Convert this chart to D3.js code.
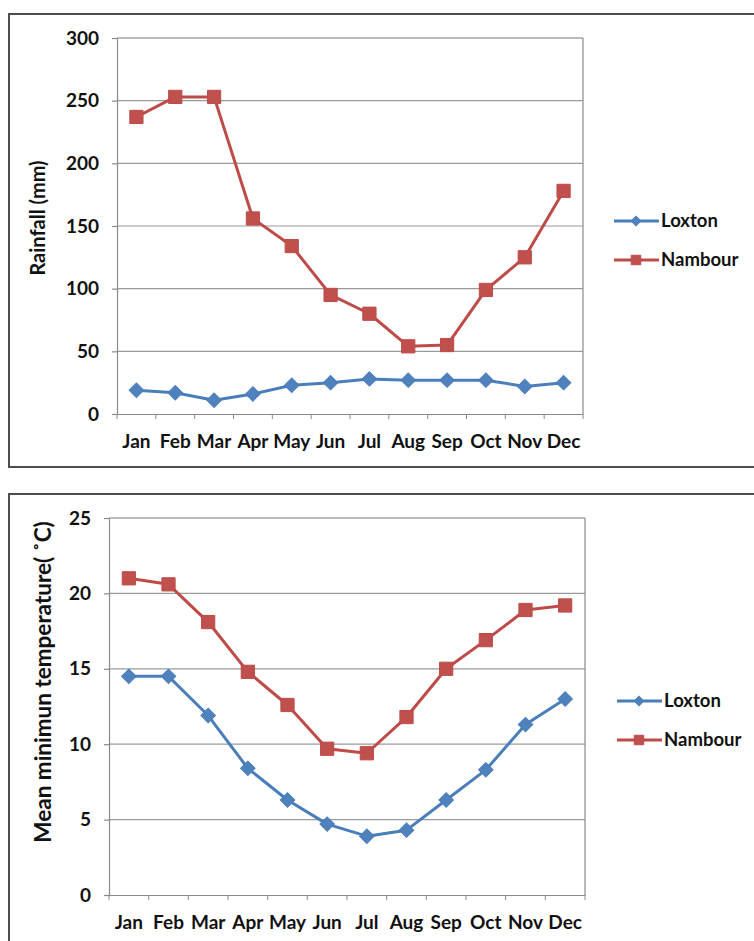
<!DOCTYPE html>
<html>
<head>
<meta charset="utf-8">
<script src="https://cdn.jsdelivr.net/npm/d3@7"></script>
<style>
  body { margin: 0; background: #fff; }
  text { font-family: Lato, "Open Sans", sans-serif; font-weight: bold; fill: #111; }
</style>
</head>
<body>
<div id="chart"></div>
<script>
"use strict";

const months = ["Jan", "Feb", "Mar", "Apr", "May", "Jun", "Jul", "Aug", "Sep", "Oct", "Nov", "Dec"];
const seriesNames = ["Loxton", "Nambour"];

// rainfall (mm)
const rainLoxton  = [19, 17, 11, 16, 23, 25, 28, 27, 27, 27, 22, 25];
const rainNambour = [237, 253, 253, 156, 134, 95, 80, 54, 55, 99, 125, 178];
const rainTicks   = [0, 50, 100, 150, 200, 250, 300];

// mean minimum temperature (C)
const tempLoxton  = [14.5, 14.5, 11.9, 8.4, 6.3, 4.7, 3.9, 4.3, 6.3, 8.3, 11.3, 13.0];
const tempNambour = [21.0, 20.6, 18.1, 14.8, 12.6, 9.7, 9.4, 11.8, 15.0, 16.9, 18.9, 19.2];
const tempTicks   = [0, 5, 10, 15, 20, 25];

const colors = {line: ["#4a7ebb", "#be4b48"], fill: ["#4f81bd", "#c0504d"]};

const width = 754;
const height = 941;

const svg = d3.select("#chart").append("svg")
    .attr("width", width)
    .attr("height", height);


function drawChart(obj) {

    const g = svg.append("g");

    // outer frame
    g.append("rect")
        .attr("x", obj.box.x)
        .attr("y", obj.box.y)
        .attr("width", obj.box.w)
        .attr("height", obj.box.h)
        .attr("fill", "none")
        .attr("stroke", "#4d4d4d")
        .attr("stroke-width", 2);

    const p = obj.plot;

    const x = d3.scaleBand()
        .domain(months)
        .range([p.left, p.right]);

    const y = d3.scaleLinear()
        .domain([0, d3.max(obj.ticks)])
        .range([p.bottom, p.top]);

    // grid
    g.append("g")
        .selectAll("line")
        .data(obj.ticks.slice(1))
        .join("line")
            .attr("x1", p.left)
            .attr("x2", p.right)
            .attr("y1", d => y(d))
            .attr("y2", d => y(d))
            .attr("stroke", d => d === d3.max(obj.ticks) ? "#777" : "#9a9a9a")
            .attr("stroke-width", 1.2);

    // right border of plot
    g.append("line")
        .attr("x1", p.right).attr("x2", p.right)
        .attr("y1", p.top).attr("y2", p.bottom)
        .attr("stroke", "#8a8a8a")
        .attr("stroke-width", 1.2);

    g.append("g")
        .attr("transform", `translate(${p.left},0)`)
        .call(d3.axisLeft(y).tickValues(obj.ticks).tickSize(5).tickPadding(13).tickSizeOuter(0));

    const xAxis = g.append("g")
        .attr("transform", `translate(0,${p.bottom})`)
        .call(d3.axisBottom(x).tickSize(0).tickSizeOuter(0));

    xAxis.selectAll(".tick text")
        .attr("y", 34)
        .attr("dy", 0);

    // category boundary ticks
    xAxis.append("g")
        .selectAll("line")
        .data(d3.range(months.length + 1))
        .join("line")
            .attr("x1", i => p.left + i * x.step())
            .attr("x2", i => p.left + i * x.step())
            .attr("y1", 0)
            .attr("y2", 5)
            .attr("stroke", "#8a8a8a");

    g.selectAll(".domain, .tick line").attr("stroke", "#8a8a8a").attr("stroke-width", 1.2);
    g.selectAll(".tick text")
        .style("font-size", "19px")
        .style("font-family", "Lato, 'Open Sans', sans-serif")
        .style("font-weight", "bold")
        .attr("fill", "#111");

    // y title
    g.append("text")
        .attr("transform", `translate(${obj.titlePos[0]},${obj.titlePos[1]}) rotate(-90)`)
        .attr("text-anchor", "middle")
        .attr("dy", "0.35em")
        .style("font-size", obj.titleSize + "px")
        .text(obj.title);

    const line = d3.line()
        .x((d, i) => x(months[i]) + x.bandwidth() / 2)
        .y(d => y(d));

    const square = d3.symbol().type(d3.symbolSquare).size(175);
    const diamond = d3.symbol().type(d3.symbolSquare).size(105);
    const marker = [diamond, square];
    const rot = [45, 0];

    obj.series.forEach((s, k) => {

        g.append("path")
            .attr("d", line(s))
            .attr("fill", "none")
            .attr("stroke", colors.line[k])
            .attr("stroke-width", 3)
            .attr("stroke-linejoin", "round");

        g.append("g")
            .selectAll("path")
            .data(s)
            .join("path")
                .attr("transform", (d, i) => `translate(${x(months[i]) + x.bandwidth() / 2},${y(d)}) rotate(${rot[k]})`)
                .attr("d", marker[k])
                .attr("fill", colors.fill[k])
                .attr("stroke", colors.line[k])
                .attr("stroke-width", 1);
    });

    // legend
    const lg = g.append("g")
        .attr("transform", `translate(${obj.legend.x},${obj.legend.y})`);

    seriesNames.forEach((name, k) => {
        const row = lg.append("g").attr("transform", `translate(0,${k * 39})`);
        row.append("line")
            .attr("x1", 0).attr("x2", 45)
            .attr("stroke", colors.line[k])
            .attr("stroke-width", 3);
        row.append("path")
            .attr("transform", `translate(22,0) rotate(${rot[k]})`)
            .attr("d", d3.symbol().type(d3.symbolSquare).size(k ? 90 : 45))
            .attr("fill", colors.fill[k])
            .attr("stroke", colors.line[k]);
        row.append("text")
            .attr("x", 47)
            .attr("dy", "0.35em")
            .style("font-size", "18.5px")
            .text(name);
    });
}


drawChart({
    "box": {x: 9, y: 14, w: 760, h: 453},
    "plot": {left: 117, right: 583, top: 38, bottom: 414},
    "ticks": rainTicks,
    "series": [rainLoxton, rainNambour],
    "title": "Rainfall (mm)",
    "titlePos": [38, 218],
    "titleSize": 20,
    "legend": {x: 614, y: 221}
});

drawChart({
    "box": {x: 9, y: 494, w: 760, h: 470},
    "plot": {left: 109, right: 585, top: 518, bottom: 895},
    "ticks": tempTicks,
    "series": [tempLoxton, tempNambour],
    "title": "Mean minimun temperature( \u02daC)",
    "titlePos": [43, 682],
    "titleSize": 22.5,
    "legend": {x: 617, y: 701}
});

</script>
</body>
</html>
